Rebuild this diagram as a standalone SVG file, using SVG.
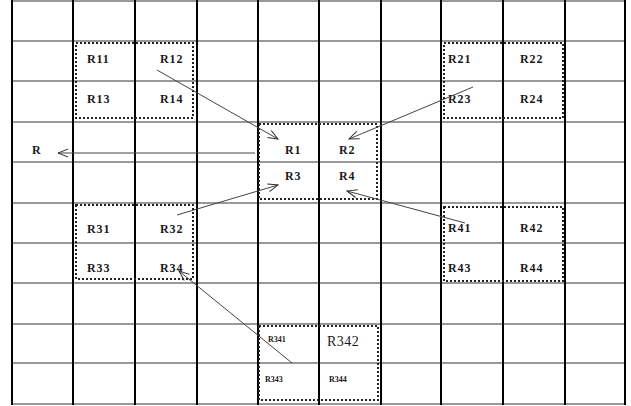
<svg xmlns="http://www.w3.org/2000/svg" width="631" height="406" viewBox="0 0 631 406">
<defs>
<marker id="open" markerWidth="12" markerHeight="10" refX="11" refY="5" orient="auto" markerUnits="userSpaceOnUse">
<path d="M1,1 L11,5 L1,9" fill="none" stroke="#333" stroke-width="1"/>
</marker>
</defs>
<style>
.h{stroke:#999;stroke-width:2}
.v{stroke:#000;stroke-width:2}
.box{fill:none;stroke:#222;stroke-width:2;stroke-dasharray:2 2}
.t{font-family:"Liberation Serif",serif;font-weight:bold;font-size:12px;fill:#1a1a1a;letter-spacing:0.9px}
.s{font-family:"Liberation Serif",serif;font-weight:bold;font-size:8px;fill:#1a1a1a}
.c{stroke:#444;stroke-width:1;fill:none;marker-end:url(#open)}
</style>
<rect width="631" height="406" fill="#fff"/>
<g id="grid">
<line class="h" x1="12" y1="1" x2="626" y2="1"/>
<line class="h" x1="12" y1="41" x2="626" y2="41"/>
<line class="h" x1="12" y1="81" x2="626" y2="81"/>
<line class="h" x1="12" y1="122" x2="626" y2="122"/>
<line class="h" x1="12" y1="162" x2="626" y2="162"/>
<line class="h" x1="12" y1="203" x2="626" y2="203"/>
<line class="h" x1="12" y1="243" x2="626" y2="243"/>
<line class="h" x1="12" y1="283" x2="626" y2="283"/>
<line class="h" x1="12" y1="324" x2="626" y2="324"/>
<line class="h" x1="12" y1="363" x2="626" y2="363"/>
<line class="h" x1="12" y1="404" x2="626" y2="404"/>
<line class="v" x1="12" y1="0" x2="12" y2="405"/>
<line class="v" x1="73" y1="0" x2="73" y2="405"/>
<line class="v" x1="135" y1="0" x2="135" y2="405"/>
<line class="v" x1="197" y1="0" x2="197" y2="405"/>
<line class="v" x1="258" y1="0" x2="258" y2="405"/>
<line class="v" x1="319" y1="0" x2="319" y2="405"/>
<line class="v" x1="381" y1="0" x2="381" y2="405"/>
<line class="v" x1="441" y1="0" x2="441" y2="405"/>
<line class="v" x1="503" y1="0" x2="503" y2="405"/>
<line class="v" x1="565" y1="0" x2="565" y2="405"/>
<line class="v" x1="625" y1="0" x2="625" y2="405"/>
</g>
<g id="R1x">
<rect class="box" x="76" y="43" width="117" height="75"/>
<text class="t" x="87" y="63">R11</text>
<text class="t" x="160" y="63">R12</text>
<text class="t" x="87" y="103">R13</text>
<text class="t" x="160" y="103">R14</text>
</g>
<g id="R2x">
<rect class="box" x="444" y="43" width="119" height="75"/>
<text class="t" x="448" y="63">R21</text>
<text class="t" x="520" y="63">R22</text>
<text class="t" x="448" y="103">R23</text>
<text class="t" x="520" y="103">R24</text>
</g>
<g id="center">
<rect class="box" x="259" y="124" width="118" height="75"/>
<text class="t" x="285" y="154">R1</text>
<text class="t" x="339" y="154">R2</text>
<text class="t" x="285" y="180">R3</text>
<text class="t" x="339" y="180">R4</text>
</g>
<g id="R3x">
<rect class="box" x="76" y="205" width="117" height="74"/>
<text class="t" x="87" y="233">R31</text>
<text class="t" x="160" y="233">R32</text>
<text class="t" x="87" y="272">R33</text>
<text class="t" x="160" y="272">R34</text>
</g>
<g id="R4x">
<rect class="box" x="444" y="207" width="119" height="74"/>
<text class="t" x="448" y="232">R41</text>
<text class="t" x="520" y="232">R42</text>
<text class="t" x="448" y="272">R43</text>
<text class="t" x="520" y="272">R44</text>
</g>
<g id="R34x">
<rect class="box" x="259" y="326" width="119" height="74"/>
<text class="s" x="268" y="342">R341</text>
<text class="t" x="327" y="346" style="font-size:14px;font-weight:normal;letter-spacing:0.5px">R342</text>
<text class="s" x="265" y="382">R343</text>
<text class="s" x="329" y="382">R344</text>
</g>
<g id="R">
<text class="t" x="32" y="154">R</text>
</g>
<g id="connectors">
<line class="c" x1="157" y1="70" x2="278" y2="139"/>
<line class="c" x1="473" y1="87" x2="349" y2="139"/>
<line class="c" x1="177" y1="215" x2="278" y2="185"/>
<line class="c" x1="465" y1="223" x2="347" y2="191"/>
<line class="c" x1="292" y1="363" x2="179" y2="271"/>
<line class="c" x1="255" y1="153" x2="58" y2="153"/>
</g>
</svg>
